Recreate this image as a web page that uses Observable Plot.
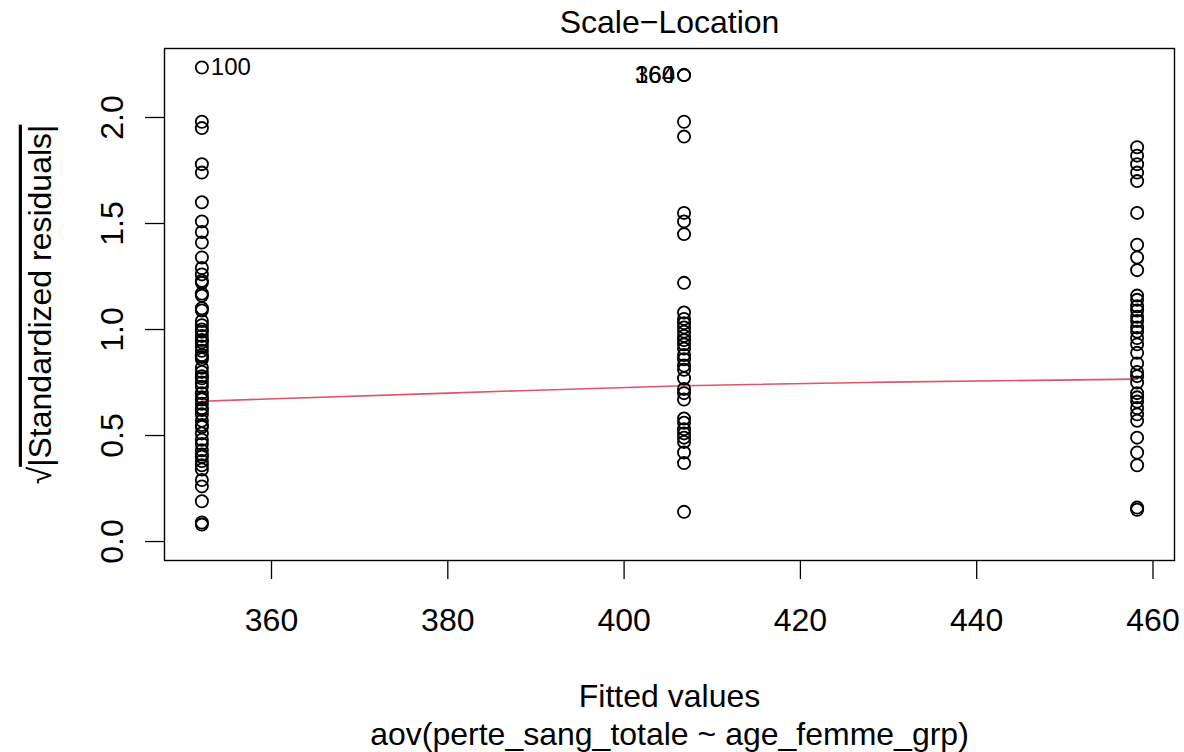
<!DOCTYPE html>
<html>
<head>
<meta charset="utf-8">
<script src="https://cdn.jsdelivr.net/npm/d3@7"></script>
<script src="https://cdn.jsdelivr.net/npm/@observablehq/plot@0.6"></script>
<style>
  html, body { margin: 0; padding: 0; background: #ffffff; }
  #chart { width: 1184px; height: 752px; }
</style>
</head>
<body>
<div id="chart"></div>
<script>
// ---- data ----
const fittedLevels = [352.1, 406.8, 458.2];

const residGroup1 = [2.236, 1.98, 1.95, 1.78, 1.74, 1.60, 1.51, 1.46, 1.41, 1.34, 1.29, 1.26, 1.23, 1.22, 1.17, 1.16,
  1.10, 1.09, 1.04, 1.02, 1.00, 0.99, 0.97, 0.95, 0.94, 0.92, 0.90, 0.88, 0.87, 0.86, 0.82, 0.80, 0.78, 0.77,
  0.75, 0.73, 0.70, 0.68, 0.67, 0.65, 0.63, 0.62, 0.60, 0.57, 0.55, 0.54, 0.51, 0.48, 0.46, 0.43, 0.41, 0.40,
  0.38, 0.36, 0.34, 0.29, 0.26, 0.19, 0.09, 0.08];
const residGroup2 = [2.20, 2.20, 1.98, 1.91, 1.55, 1.51, 1.45, 1.22, 1.08, 1.05, 1.03, 1.01, 0.99, 0.97, 0.95, 0.93,
  0.91, 0.88, 0.86, 0.83, 0.81, 0.77, 0.72, 0.70, 0.67, 0.58, 0.56, 0.53, 0.51, 0.49, 0.47, 0.42, 0.37, 0.14];
const residGroup3 = [1.86, 1.82, 1.78, 1.74, 1.70, 1.55, 1.40, 1.34, 1.28, 1.16, 1.14, 1.11, 1.09, 1.06, 1.04, 1.01,
  0.99, 0.96, 0.93, 0.89, 0.84, 0.80, 0.78, 0.75, 0.70, 0.68, 0.66, 0.63, 0.60, 0.57, 0.49, 0.42, 0.36, 0.16, 0.15];

const smoothX = [352.1, 380, 406.8, 430, 458.2];
const smoothY = [0.662, 0.700, 0.735, 0.752, 0.766];

const idLabels = ["100", "360", "164"];
const idX = [352.1, 406.8, 406.8];
const idY = [2.236, 2.20, 2.20];

const xTicks = [360, 380, 400, 420, 440, 460];
const yTicks = [0.0, 0.5, 1.0, 1.5, 2.0];

const titleText = "Scale\u2212Location";
const xLabelText = "Fitted values";
const subText = "aov(perte_sang_totale ~ age_femme_grp)";
const yLabelText = "\u221A|Standardized residuals|";

// ---- build tables ----
const points = [];
[residGroup1, residGroup2, residGroup3].forEach((g, i) => g.forEach(v => points.push({x: fittedLevels[i], y: v})));
const smooth = smoothX.map((x, i) => ({x, y: smoothY[i]}));
const ids = idLabels.map((t, i) => ({t, x: idX[i], y: idY[i], right: idX[i] < (fittedLevels[0] + fittedLevels[2]) / 2}));

const font = "'Liberation Sans', Arial, Helvetica, sans-serif";
const fs = 32;

const chart = Plot.plot({
  width: 1184,
  height: 752,
  marginLeft: 164,
  marginRight: 10,
  marginTop: 48,
  marginBottom: 192,
  style: {fontFamily: font, background: "#ffffff", color: "#000000"},
  x: {domain: [347.86, 462.44]},
  y: {domain: [-0.0894, 2.3254]},
  marks: [
    Plot.axisX({ticks: xTicks, tickSize: 19, tickPadding: 29, fontSize: fs, label: null, stroke: "#000", strokeWidth: 1.3}),
    Plot.axisY({ticks: yTicks, tickSize: 19, tickFormat: () => "", label: null, stroke: "#000", strokeWidth: 1.3}),
    Plot.text(yTicks, {x: null, y: d => d, text: d => d.toFixed(1), frameAnchor: "left", dx: -42, rotate: -90,
      textAnchor: "middle", lineAnchor: "bottom", fontSize: fs, fill: "#000"}),
    Plot.line(smooth, {x: "x", y: "y", stroke: "#DF536B", strokeWidth: 1.6, curve: "monotone-x"}),
    Plot.dot(points, {x: "x", y: "y", r: 6.1, stroke: "#000", strokeWidth: 1.8, fill: "none"}),
    Plot.text(ids.filter(d => d.right), {x: "x", y: "y", text: "t", textAnchor: "start", dx: 9, fontSize: 24, fill: "#000"}),
    Plot.text(ids.filter(d => !d.right), {x: "x", y: "y", text: "t", textAnchor: "end", dx: -9, fontSize: 24, fill: "#000"}),
    Plot.frame({stroke: "#000", strokeWidth: 1.4}),
    Plot.text([titleText], {frameAnchor: "top", dy: -38, fontSize: fs, fill: "#000", textAnchor: "middle"}),
    Plot.text([xLabelText], {frameAnchor: "bottom", dy: 146, fontSize: fs, fill: "#000", textAnchor: "middle"}),
    Plot.text([subText], {frameAnchor: "bottom", dy: 184, fontSize: fs, fill: "#000", textAnchor: "middle"}),
    Plot.text([yLabelText], {frameAnchor: "left", dx: -124, rotate: -90, fontSize: fs, fill: "#000", textAnchor: "middle"})
  ]
});

document.getElementById("chart").appendChild(chart);

// overline over the radicand of the y label
d3.select(chart).selectAll("text").each(function() {
  const t = this.textContent;
  if (t === yLabelText) {
    const sel = d3.select(this);
    sel.text(null);
    sel.append("tspan").text("\u221A");
    sel.append("tspan").attr("text-decoration", "overline").style("text-decoration", "overline").text(t.slice(1));
  }
});
</script>
</body>
</html>
